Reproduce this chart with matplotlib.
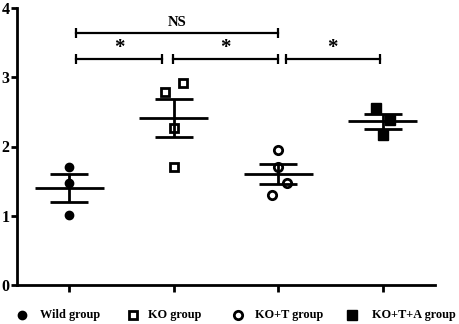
import matplotlib
matplotlib.use("Agg")
import matplotlib.pyplot as plt
from matplotlib.lines import Line2D
import numpy as np

plt.rcParams['font.family'] = ['Liberation Serif', 'DejaVu Serif']
plt.rcParams['font.weight'] = 'bold'

groups = ["Wild group", "KO group", "KO+T group", "KO+T+A group"]
positions = [1, 2, 3, 4]

wild = [1.70, 1.48, 1.01]
ko = [2.78, 2.91, 2.27, 1.70]
ko_t = [1.95, 1.70, 1.47, 1.30]
ko_t_a = [2.55, 2.38, 2.16]

# horizontal scatter of the points inside each column
wild_dx = [0.0, 0.0, 0.0]
ko_dx = [-0.085, 0.085, 0.0, 0.0]
ko_t_dx = [0.0, 0.0, 0.08, -0.06]
ko_t_a_dx = [-0.06, 0.07, 0.0]

# significance brackets: (x start, x end, level, label)
brackets = [(1.06, 3.0, 3.64, "NS"),
            (1.06, 1.89, 3.26, "*"),
            (1.99, 3.0, 3.26, "*"),
            (3.07, 3.97, 3.26, "*")]

series = [wild, ko, ko_t, ko_t_a]
offsets = [wild_dx, ko_dx, ko_t_dx, ko_t_a_dx]
styles = [dict(marker='o', mfc='black', mec='black', ms=6, mew=1),
          dict(marker='s', mfc='none', mec='black', ms=5.5, mew=2),
          dict(marker='o', mfc='none', mec='black', ms=6, mew=2),
          dict(marker='s', mfc='black', mec='black', ms=6.5, mew=1)]

fig = plt.figure(figsize=(4.6, 3.24), dpi=100)
ax = fig.add_axes([17/460, 1-285/324, (435-17)/460, (285-8)/324])

for x, vals, dx, st in zip(positions, series, offsets, styles):
    vals = np.array(vals)
    m = vals.mean()
    sem = vals.std(ddof=1) / np.sqrt(len(vals))
    ax.plot(x + np.array(dx), vals, linestyle='none', color='black', zorder=3, **st)
    ax.hlines(m, x - 0.33, x + 0.33, color='black', lw=2, zorder=2)
    ax.errorbar(x, m, yerr=sem, fmt='none', ecolor='black', elinewidth=2,
                capsize=13.5, capthick=2, zorder=2)

for x1, x2, y, lab in brackets:
    ax.plot([x1, x2], [y, y], color='black', lw=1.6, marker='|', ms=7, mew=1.6)
    if lab == "NS":
        ax.text((x1 + x2) / 2, y + 0.05, lab, ha='center', va='bottom',
                fontsize=10.5, fontweight='bold')
    else:
        ax.text((x1 + x2) / 2, y + 0.02, lab, ha='center', va='bottom',
                fontsize=15, fontweight='bold')

ax.set_xlim(0.5, 4.5)
ax.set_ylim(0, 4)
ax.set_yticks([0, 1, 2, 3, 4])
ax.set_xticks(positions)
ax.set_xticklabels([])
for s in ['top', 'right']:
    ax.spines[s].set_visible(False)
for s in ['left', 'bottom']:
    ax.spines[s].set_linewidth(2)
ax.tick_params(axis='y', length=4, width=2, pad=1.5, labelsize=11.5)
ax.tick_params(axis='x', length=5, width=2)
for t in ax.get_yticklabels():
    t.set_fontweight('bold')

# legend row under the axis
leg_marker_x = [22, 133, 238, 352]
leg_text_x = [40, 148, 255, 372]
leg_y = 1 - 315/324
for mx, tx, lab, st in zip(leg_marker_x, leg_text_x, groups, styles):
    fig.add_artist(Line2D([mx/460], [leg_y], transform=fig.transFigure,
                          linestyle='none', color='black', **st))
    fig.text(tx/460, leg_y, lab, ha='left', va='center', fontsize=8.8,
             fontweight='bold')

fig.savefig("out.png", dpi=100)
